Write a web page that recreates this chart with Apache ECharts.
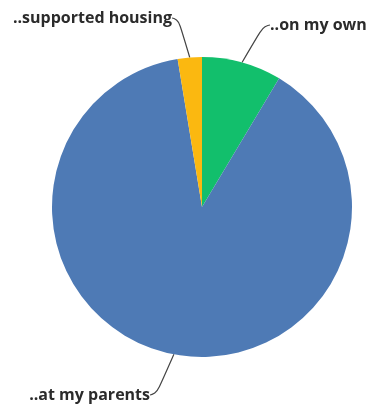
<!DOCTYPE html>
<html>
<head>
<meta charset="utf-8">
<script src="https://cdn.jsdelivr.net/npm/echarts@6/dist/echarts.min.js"></script>
<style>
  html, body { margin: 0; padding: 0; background: #fff; }
  #chart { width: 370px; height: 407px; }
</style>
</head>
<body>
<div id="chart"></div>
<script>
// Datos del gráfico
const categorias = ['..on my own', '..at my parents', '..supported housing'];
const valores = [8.6, 88.8, 2.6];
const colores = ['#12bf6c', '#4e7ab5', '#fbb810'];

// Posición de cada etiqueta (x, y, alineación)
const posEtiquetas = [
    { x: 262, y: 25, align: 'left' },
    { x: 158, y: 395, align: 'right' },
    { x: 180, y: 18, align: 'right' }
];

const chart = echarts.init(document.getElementById('chart'));
chart.setOption({
    animation: false,
    series: [{
        type: 'pie',
        center: [202, 207],
        radius: 150,
        startAngle: 90,
        clockwise: true,
        data: categorias.map((c, i) => ({
            name: c,
            value: valores[i],
            itemStyle: { color: colores[i] }
        })),
        label: {
            show: true,
            formatter: '{b}',
            color: '#2b2b2b',
            fontFamily: 'Open Sans',
            fontWeight: 'bold',
            fontSize: 16,
            padding: [0, 8],
            overflow: 'none',
            width: 200
        },
        labelLine: {
            show: true,
            smooth: 0.7,
            length: 25,
            length2: 6,
            lineStyle: { color: '#444', width: 1.2 }
        },
        labelLayout: function (params) {
            const p = posEtiquetas[params.dataIndex];
            return { x: p.x, y: p.y, align: p.align, verticalAlign: 'middle' };
        }
    }]
});
</script>
</body>
</html>
